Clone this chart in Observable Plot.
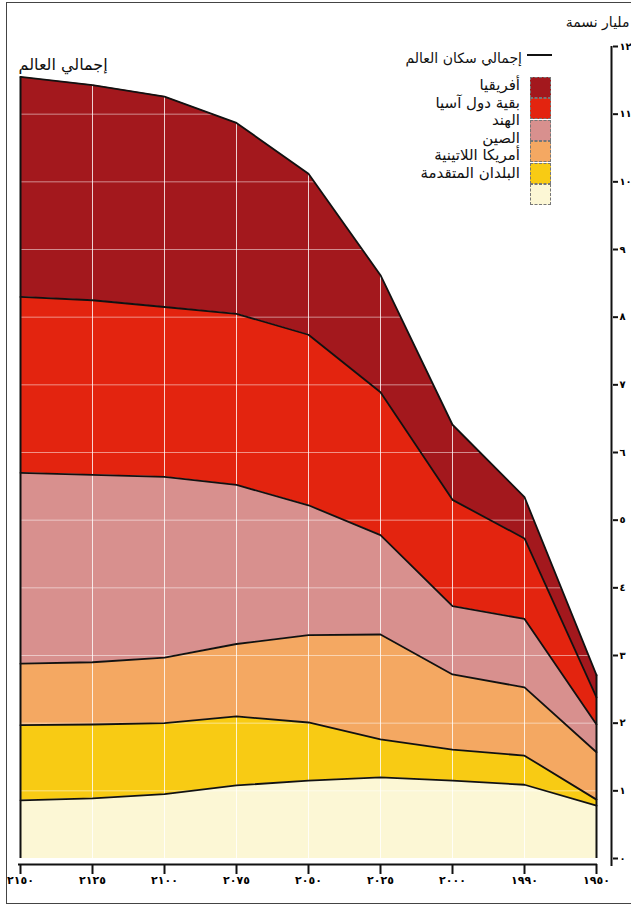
<!DOCTYPE html>
<html><head><meta charset="utf-8">
<script src="https://cdn.jsdelivr.net/npm/d3@7"></script>
<script src="https://cdn.jsdelivr.net/npm/@observablehq/plot@0.6"></script>
<style>
body{margin:0;background:#fff;font-family:"DejaVu Sans",sans-serif;}
#wrap{position:relative;width:631px;height:911px;overflow:hidden;}
#frame{position:absolute;left:6px;top:2px;width:700px;height:900px;border:1.5px solid #444;pointer-events:none;}
.lg{position:absolute;direction:rtl;font-size:15px;color:#111;white-space:nowrap;}
.sw{position:absolute;left:530px;width:21px;height:21px;border:1px dashed #777;box-sizing:border-box;}
</style></head>
<body><div id="wrap"><div id="frame"></div></div>
<script>
const years = [2150, 2125, 2100, 2075, 2050, 2025, 2000, 1990, 1950];
const regions = ["البلدان المتقدمة", "أمريكا اللاتينية", "الصين", "الهند", "بقية دول آسيا", "أفريقيا"];
const colors = ["#fcf7d5", "#f8cb14", "#f4a862", "#d8908e", "#e3240f", "#a3181d"];
// billions, per region (bottom to top)
const developed = [0.86, 0.89, 0.95, 1.08, 1.15, 1.20, 1.15, 1.09, 0.78];
const latinAmerica = [1.11, 1.09, 1.05, 1.02, 0.86, 0.56, 0.46, 0.43, 0.09];
const china = [0.91, 0.92, 0.97, 1.07, 1.29, 1.55, 1.11, 1.01, 0.70];
const india = [2.82, 2.77, 2.67, 2.35, 1.92, 1.47, 1.01, 1.01, 0.41];
const restOfAsia = [2.60, 2.58, 2.51, 2.53, 2.52, 2.11, 1.57, 1.19, 0.40];
const africa = [3.25, 3.18, 3.11, 2.82, 2.38, 1.73, 1.11, 0.61, 0.33];
const yTicks = [0, 1, 2, 3, 4, 5, 6, 7, 8, 9, 10, 11, 12];
const legendOrder = ["أفريقيا", "بقية دول آسيا", "الهند", "الصين", "أمريكا اللاتينية", "البلدان المتقدمة"];
const totalLabel = "إجمالي سكان العالم";
const worldLabel = "إجمالي العالم";
const unitLabel = "مليار نسمة";

const series = [developed, latinAmerica, china, india, restOfAsia, africa];
const rows = regions.flatMap((r, i) => years.map((yr, j) => ({year: yr, region: r, value: series[i][j]})));
const totals = years.map((yr, j) => ({year: yr, total: d3.sum(series, s => s[j])}));
const ar = d => String(d).replace(/[0-9]/g, c => "٠١٢٣٤٥٦٧٨٩"[+c]);

const chart = Plot.plot({
  width: 631, height: 911,
  marginLeft: 18, marginRight: 34, marginTop: 46, marginBottom: 53,
  style: {fontFamily: "DejaVu Sans", background: "transparent"},
  x: {type: "point", domain: years, padding: 0},
  y: {domain: [0, 12]},
  color: {domain: regions, range: colors},
  marks: [
    Plot.areaY(rows, {x: "year", y: "value", z: "region", fill: "region"}),
    Plot.ruleY(yTicks.slice(1, 12), {stroke: "white", strokeOpacity: 0.5, strokeWidth: 1}),
    Plot.ruleX(years.slice(1, -1), {y1: 0, y2: 12, stroke: "white", strokeOpacity: 0.8, strokeWidth: 1}),
    Plot.lineY(rows, Plot.stackY2({x: "year", y: "value", z: "region", stroke: "#111", strokeWidth: 1.8})),
    Plot.ruleX(totals.filter((d, i) => i === 0 || i === totals.length - 1), {x: "year", y1: 0, y2: "total", stroke: "#111", strokeWidth: 2}),
    Plot.ruleY([0], {stroke: "#111", strokeWidth: 2, dy: 6}),
    Plot.ruleX([1950], {y1: 0, y2: 0, stroke: "#111", strokeWidth: 2, dy: 3}),
    Plot.axisX({anchor: "bottom", tickSize: 10, tickPadding: 2, dy: 6, tickFormat: ar, fontSize: 11, fontWeight: "bold", label: null, stroke: "#111", strokeWidth: 2}),
    Plot.ruleX([1950], {y1: -0.12, y2: 12, dx: 15, stroke: "#111", strokeWidth: 2}),
    Plot.axisY({anchor: "right", ticks: yTicks, tickSize: 5, tickPadding: 2, dx: 15, tickFormat: ar, fontSize: 10, fontWeight: "bold", label: null, stroke: "#111", strokeWidth: 2}),
    Plot.text([worldLabel], {frameAnchor: "top-left", textAnchor: "start", dx: 0, dy: 12, fontSize: 16, fill: "#111"}),
    Plot.text([unitLabel], {frameAnchor: "top-right", textAnchor: "end", dx: 32, dy: -29, fontSize: 14, fill: "#111"})
  ]
});
const wrap = document.getElementById("wrap");
chart.style.position = "absolute"; chart.style.left = "0"; chart.style.top = "0";
wrap.insertBefore(chart, wrap.firstChild);

// legend
const line = document.createElement("div");
line.style.cssText = "position:absolute;left:527px;top:54px;width:25px;height:2px;background:#111;";
wrap.appendChild(line);
const t0 = document.createElement("div");
t0.className = "lg"; t0.textContent = totalLabel;
t0.style.cssText += "right:109px;top:50px;font-size:14px;";
wrap.appendChild(t0);
legendOrder.forEach((name, i) => {
  const sw = document.createElement("div");
  sw.className = "sw";
  sw.style.top = (77 + i * 21.4) + "px";
  sw.style.background = colors[regions.indexOf(name)];
  wrap.appendChild(sw);
  const t = document.createElement("div");
  t.className = "lg"; t.textContent = name;
  t.style.right = "111px";
  t.style.top = (76 + i * 17.6) + "px";
  t.style.lineHeight = "18px";
  wrap.appendChild(t);
});
</script></body></html>
